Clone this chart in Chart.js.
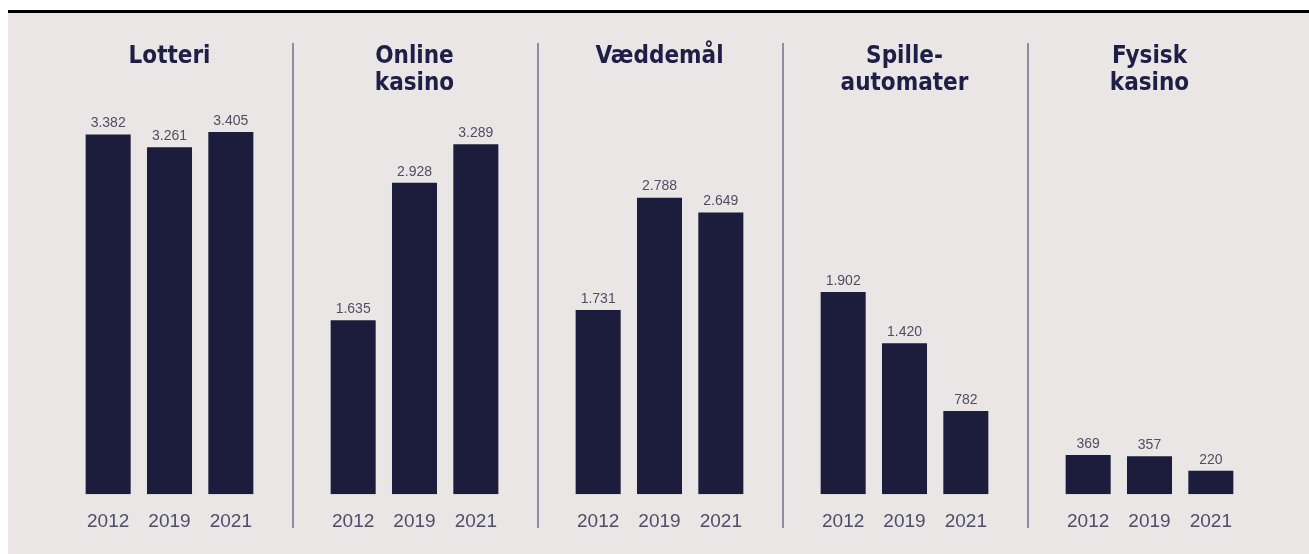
<!DOCTYPE html>
<html>
<head>
<meta charset="utf-8">
<script src="https://cdn.jsdelivr.net/npm/chart.js@4.4.1/dist/chart.umd.min.js"></script>
<style>
  html, body { margin: 0; padding: 0; background: #fff; width: 1309px; height: 554px; overflow: hidden; }
  #rule { position: absolute; left: 8px; top: 10px; width: 1301px; height: 3px; background: #000; }
  #bg { position: absolute; left: 8px; top: 13px; width: 1301px; height: 541px; background: #EAE6E5; }
  .panel { position: absolute; top: 30px; width: 245px; height: 524px; }
  .sep { position: absolute; top: 43px; width: 2px; height: 485px; background: #8F8DA2; }
</style>
</head>
<body>
<div id="rule"></div>
<div id="bg"></div>
<div id="wrap"></div>
<script>
// data
var years = ['2012', '2019', '2021'];
var titles = [['Lotteri', ''], ['Online', 'kasino'], ['Væddemål', ''], ['Spille-', 'automater'], ['Fysisk', 'kasino']];
var lotteri = [3382, 3261, 3405];
var onlineKasino = [1635, 2928, 3289];
var vaeddemaal = [1731, 2788, 2649];
var spilleautomater = [1902, 1420, 782];
var fysiskKasino = [369, 357, 220];
var series = [lotteri, onlineKasino, vaeddemaal, spilleautomater, fysiskKasino];

var yMax = 3734;
var barColor = '#1C1C3D';
var panelLeft = [46.5, 291.5, 536.5, 781.5, 1026.5];

function fmt(v) {
  return String(v).replace(/\B(?=(\d{3})+(?!\d))/g, '.');
}

// value labels over the bars
var valueLabels = {
  id: 'valueLabels',
  afterDatasetsDraw: function(chart) {
    var ctx = chart.ctx;
    var meta = chart.getDatasetMeta(0);
    ctx.save();
    ctx.font = '14px "Liberation Sans", Arial, sans-serif';
    ctx.fillStyle = '#4E4E62';
    ctx.textAlign = 'center';
    ctx.textBaseline = 'bottom';
    meta.data.forEach(function(bar, i) {
      ctx.fillText(fmt(chart.data.datasets[0].data[i]), bar.x, bar.y - 4);
    });
    ctx.restore();
  }
};

var wrap = document.getElementById('wrap');
series.forEach(function(values, i) {
  var box = document.createElement('div');
  box.className = 'panel';
  box.style.left = panelLeft[i] + 'px';
  var cv = document.createElement('canvas');
  box.appendChild(cv);
  wrap.appendChild(box);

  if (i > 0) {
    var sep = document.createElement('div');
    sep.className = 'sep';
    sep.style.left = (panelLeft[i] + 0.5) + 'px';
    wrap.appendChild(sep);
  }

  new Chart(cv.getContext('2d'), {
    type: 'bar',
    data: {
      labels: years,
      datasets: [{
        data: values,
        backgroundColor: barColor,
        borderWidth: 0,
        barPercentage: 1,
        categoryPercentage: 0.734
      }]
    },
    options: {
      responsive: true,
      maintainAspectRatio: false,
      animation: false,
      layout: { padding: { left: 30.5, right: 30.5, top: 0, bottom: 5 } },
      plugins: {
        legend: { display: false },
        tooltip: { enabled: false },
        title: {
          display: true,
          text: titles[i],
          color: '#1E1E46',
          font: { family: '"Liberation Sans Narrow", "DejaVu Sans Condensed", sans-serif', size: 24, weight: 'bold', lineHeight: 1.125 },
          padding: { top: 13, bottom: 0 }
        }
      },
      scales: {
        x: {
          grid: { display: false, drawTicks: false },
          border: { display: false },
          ticks: {
            color: '#4E4D68',
            padding: 16,
            font: { family: '"Liberation Sans", Arial, sans-serif', size: 19 }
          }
        },
        y: {
          display: false,
          min: 0,
          max: yMax
        }
      }
    },
    plugins: [valueLabels]
  });
});
</script>
</body>
</html>
